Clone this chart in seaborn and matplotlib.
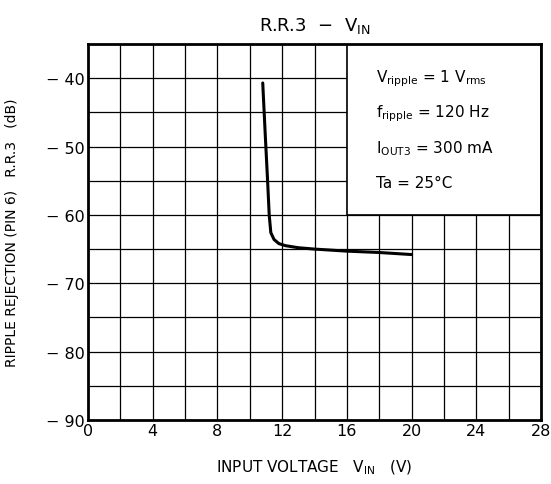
import numpy as np
import pandas as pd
import matplotlib
matplotlib.use("Agg")
import matplotlib.pyplot as plt
import seaborn as sns
from matplotlib.patches import Rectangle

# curve
vin = [10.8, 10.95, 11.1, 11.2, 11.3, 11.5, 11.8, 12.2, 13.0, 14.0, 16.0, 18.0, 20.0]
rr3 = [-40.7, -48.0, -55.0, -60.0, -62.6, -63.6, -64.2, -64.5, -64.8, -65.0, -65.3, -65.5, -65.8]

x_ticks = [0, 4, 8, 12, 16, 20, 24, 28]
y_ticks = [-90, -80, -70, -60, -50, -40]
y_tick_labels = ["\u2212 90", "\u2212 80", "\u2212 70", "\u2212 60", "\u2212 50", "\u2212 40"]

notes = [
    r"V$_{\mathregular{ripple}}$ = 1 V$_{\mathregular{rms}}$",
    r"f$_{\mathregular{ripple}}$ = 120 Hz",
    r"I$_{\mathregular{OUT3}}$ = 300 mA",
    "Ta = 25\u00b0C",
]

sns.set_style("white")
plt.rcParams['font.family'] = ['DejaVu Sans']
plt.rcParams['text.color'] = 'black'
plt.rcParams['axes.labelcolor'] = 'black'
plt.rcParams['xtick.color'] = 'black'
plt.rcParams['ytick.color'] = 'black'
plt.rcParams['mathtext.fontset'] = 'dejavusans'

df = pd.DataFrame({'vin': vin, 'rr3': rr3})

fig = plt.figure(figsize=(5.51, 4.85), dpi=100)
ax = fig.add_axes([0.1597, 0.132, 0.8222, 0.7752])

# grid
for gx in np.arange(2, 28, 2):
    ax.axvline(gx, color='black', lw=0.9, zorder=1)
for gy in np.arange(-85, -35, 5):
    ax.axhline(gy, color='black', lw=0.9, zorder=1)

# white box for the conditions
ax.add_patch(Rectangle((16, -60), 12, 25, facecolor='white', edgecolor='black',
                       lw=1.2, zorder=2))

sns.lineplot(data=df, x='vin', y='rr3', color='black', lw=2.2, ax=ax, zorder=3,
             sort=False)

for i, t in enumerate(notes):
    ax.text(17.8, -40 - i * 5.1, t, fontsize=11, va='center', ha='left', zorder=4)

ax.set_xlim(0, 28)
ax.set_ylim(-90, -35)
ax.set_xticks(x_ticks)
ax.set_yticks(y_ticks)
ax.set_yticklabels(y_tick_labels)
ax.tick_params(axis='both', labelsize=11.5, length=0, pad=2)
for s in ax.spines.values():
    s.set_linewidth(2)
    s.set_color('black')

ax.set_xlabel(r"INPUT VOLTAGE   V$_{\mathregular{IN}}$   (V)", fontsize=11, labelpad=14)
ax.set_ylabel("RIPPLE REJECTION (PIN 6)   R.R.3   (dB)", fontsize=10, labelpad=20)
ax.set_title(r"R.R.3  $-$  V$_{\mathregular{IN}}$", fontsize=13, pad=10)

fig.savefig("out.png", dpi=100)
